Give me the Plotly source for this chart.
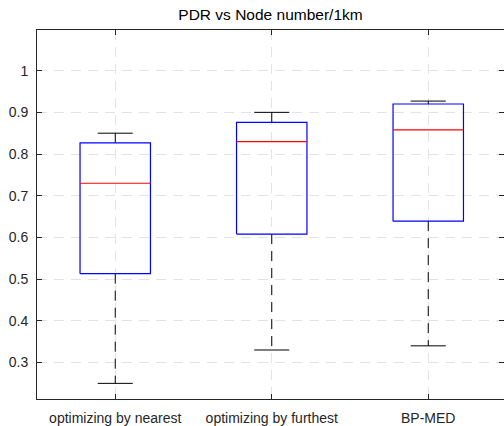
import plotly.graph_objects as go

# Packet delivery ratio summary per routing scheme
categories = ["optimizing by nearest", "optimizing by furthest", "BP-MED"]
lower_whisker = [0.25, 0.33, 0.34]
q1 = [0.513, 0.608, 0.639]
median = [0.730, 0.830, 0.858]
q3 = [0.827, 0.876, 0.920]
upper_whisker = [0.85, 0.90, 0.927]
y_ticks = [0.3, 0.4, 0.5, 0.6, 0.7, 0.8, 0.9, 1.0]
y_tick_labels = ["0.3", "0.4", "0.5", "0.6", "0.7", "0.8", "0.9", "1"]

BOX_HALF = 0.225
CAP_HALF = 0.112
AXIS_COLOR = "#262626"
FONT = "Liberation Sans, Arial, Helvetica, sans-serif"

fig = go.Figure()

for i, name in enumerate(categories):
    xc = i + 1
    # whiskers (dashed black)
    fig.add_trace(go.Scatter(
        x=[xc, xc, None, xc, xc],
        y=[q3[i], upper_whisker[i], None, q1[i], lower_whisker[i]],
        mode="lines", line=dict(color="black", width=1, dash="10px,7px"),
        hoverinfo="skip", showlegend=False))
    # whisker caps
    fig.add_trace(go.Scatter(
        x=[xc - CAP_HALF, xc + CAP_HALF, None, xc - CAP_HALF, xc + CAP_HALF],
        y=[upper_whisker[i], upper_whisker[i], None, lower_whisker[i], lower_whisker[i]],
        mode="lines", line=dict(color="black", width=1),
        hoverinfo="skip", showlegend=False))
    # box outline
    fig.add_trace(go.Scatter(
        x=[xc - BOX_HALF, xc + BOX_HALF, xc + BOX_HALF, xc - BOX_HALF, xc - BOX_HALF],
        y=[q1[i], q1[i], q3[i], q3[i], q1[i]],
        mode="lines", line=dict(color="#0000ff", width=1.2),
        name=name, showlegend=False))
    # median
    fig.add_trace(go.Scatter(
        x=[xc - BOX_HALF, xc + BOX_HALF],
        y=[median[i], median[i]],
        mode="lines", line=dict(color="#ff0000", width=1.2),
        hoverinfo="skip", showlegend=False))

fig.update_layout(
    width=504, height=426,
    margin=dict(l=37, r=0, t=30, b=27),
    paper_bgcolor="white", plot_bgcolor="white",
    font=dict(family=FONT, size=14, color=AXIS_COLOR),
    title=dict(text="PDR vs Node number/1km", x=0.5, xref="paper", xanchor="center",
               y=1 - 14.5 / 426, yref="container", yanchor="middle",
               font=dict(family=FONT, size=15.5, color="black")),
)

fig.update_xaxes(
    range=[0.5, 3.484], tickmode="array", tickvals=[1, 2, 3], ticktext=categories,
    showgrid=True, gridcolor="#e3e3e3", gridwidth=1, griddash="10px,7px",
    ticks="inside", ticklen=5, tickcolor=AXIS_COLOR,
    showline=True, linecolor=AXIS_COLOR, linewidth=1, mirror="ticks",
    zeroline=False, ticklabelstandoff=6,
)
fig.update_yaxes(
    range=[0.2125, 1.0975], tickmode="array", tickvals=y_ticks, ticktext=y_tick_labels,
    showgrid=True, gridcolor="#e3e3e3", gridwidth=1, griddash="10px,7px",
    ticks="inside", ticklen=5, tickcolor=AXIS_COLOR,
    showline=True, linecolor=AXIS_COLOR, linewidth=1, mirror="ticks",
    zeroline=False, ticklabelstandoff=5,
)

fig.write_html("out.html")
